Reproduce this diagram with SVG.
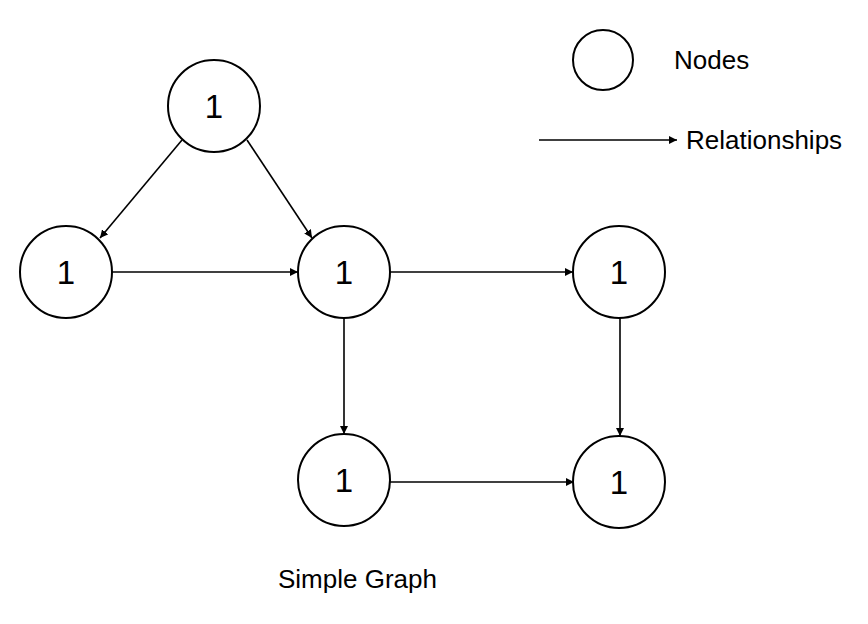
<svg xmlns="http://www.w3.org/2000/svg" width="868" height="624" viewBox="0 0 868 624">
<style>
.node{fill:#fff;stroke:#000;stroke-width:2}
.lbl{font-family:"Liberation Sans",Arial,sans-serif;font-size:33px;fill:#000;text-anchor:middle}
.txt{font-family:"Liberation Sans",Arial,sans-serif;font-size:26px;fill:#000}
.edge{stroke:#000;stroke-width:1.6;fill:none;marker-end:url(#arr)}
</style>
<defs>
<marker id="arr" markerUnits="userSpaceOnUse" markerWidth="10" markerHeight="8" refX="8" refY="4" orient="auto">
<path d="M0,0 L8,4 L0,8 Z" fill="#000"/>
</marker>
</defs>
<rect width="868" height="624" fill="#fff"/>
<g id="edges">
<line class="edge" x1="182" y1="140" x2="100" y2="238"/>
<line class="edge" x1="247" y1="140" x2="312" y2="238"/>
<line class="edge" x1="112" y1="272" x2="298" y2="272"/>
<line class="edge" x1="390" y1="272" x2="573" y2="272"/>
<line class="edge" x1="344" y1="318" x2="344" y2="434"/>
<line class="edge" x1="620" y1="318" x2="620" y2="436"/>
<line class="edge" x1="390" y1="482" x2="574" y2="482"/>
</g>
<g id="n-top"><circle class="node" cx="214" cy="106" r="46"/><text class="lbl" x="214" y="118">1</text></g>
<g id="n-left"><circle class="node" cx="66" cy="272" r="46"/><text class="lbl" x="66" y="284">1</text></g>
<g id="n-mid"><circle class="node" cx="344" cy="272" r="46"/><text class="lbl" x="344" y="284">1</text></g>
<g id="n-right"><circle class="node" cx="619" cy="272" r="46"/><text class="lbl" x="619" y="284">1</text></g>
<g id="n-bl"><circle class="node" cx="344" cy="480" r="46"/><text class="lbl" x="344" y="492">1</text></g>
<g id="n-br"><circle class="node" cx="619" cy="482" r="46"/><text class="lbl" x="619" y="494">1</text></g>
<g id="legend">
<circle class="node" cx="603" cy="60" r="30"/>
<text class="txt" x="674" y="69">Nodes</text>
<line class="edge" x1="539" y1="140" x2="677" y2="140"/>
<text class="txt" x="686" y="149">Relationships</text>
</g>
<text class="txt" x="278" y="588">Simple Graph</text>
</svg>
